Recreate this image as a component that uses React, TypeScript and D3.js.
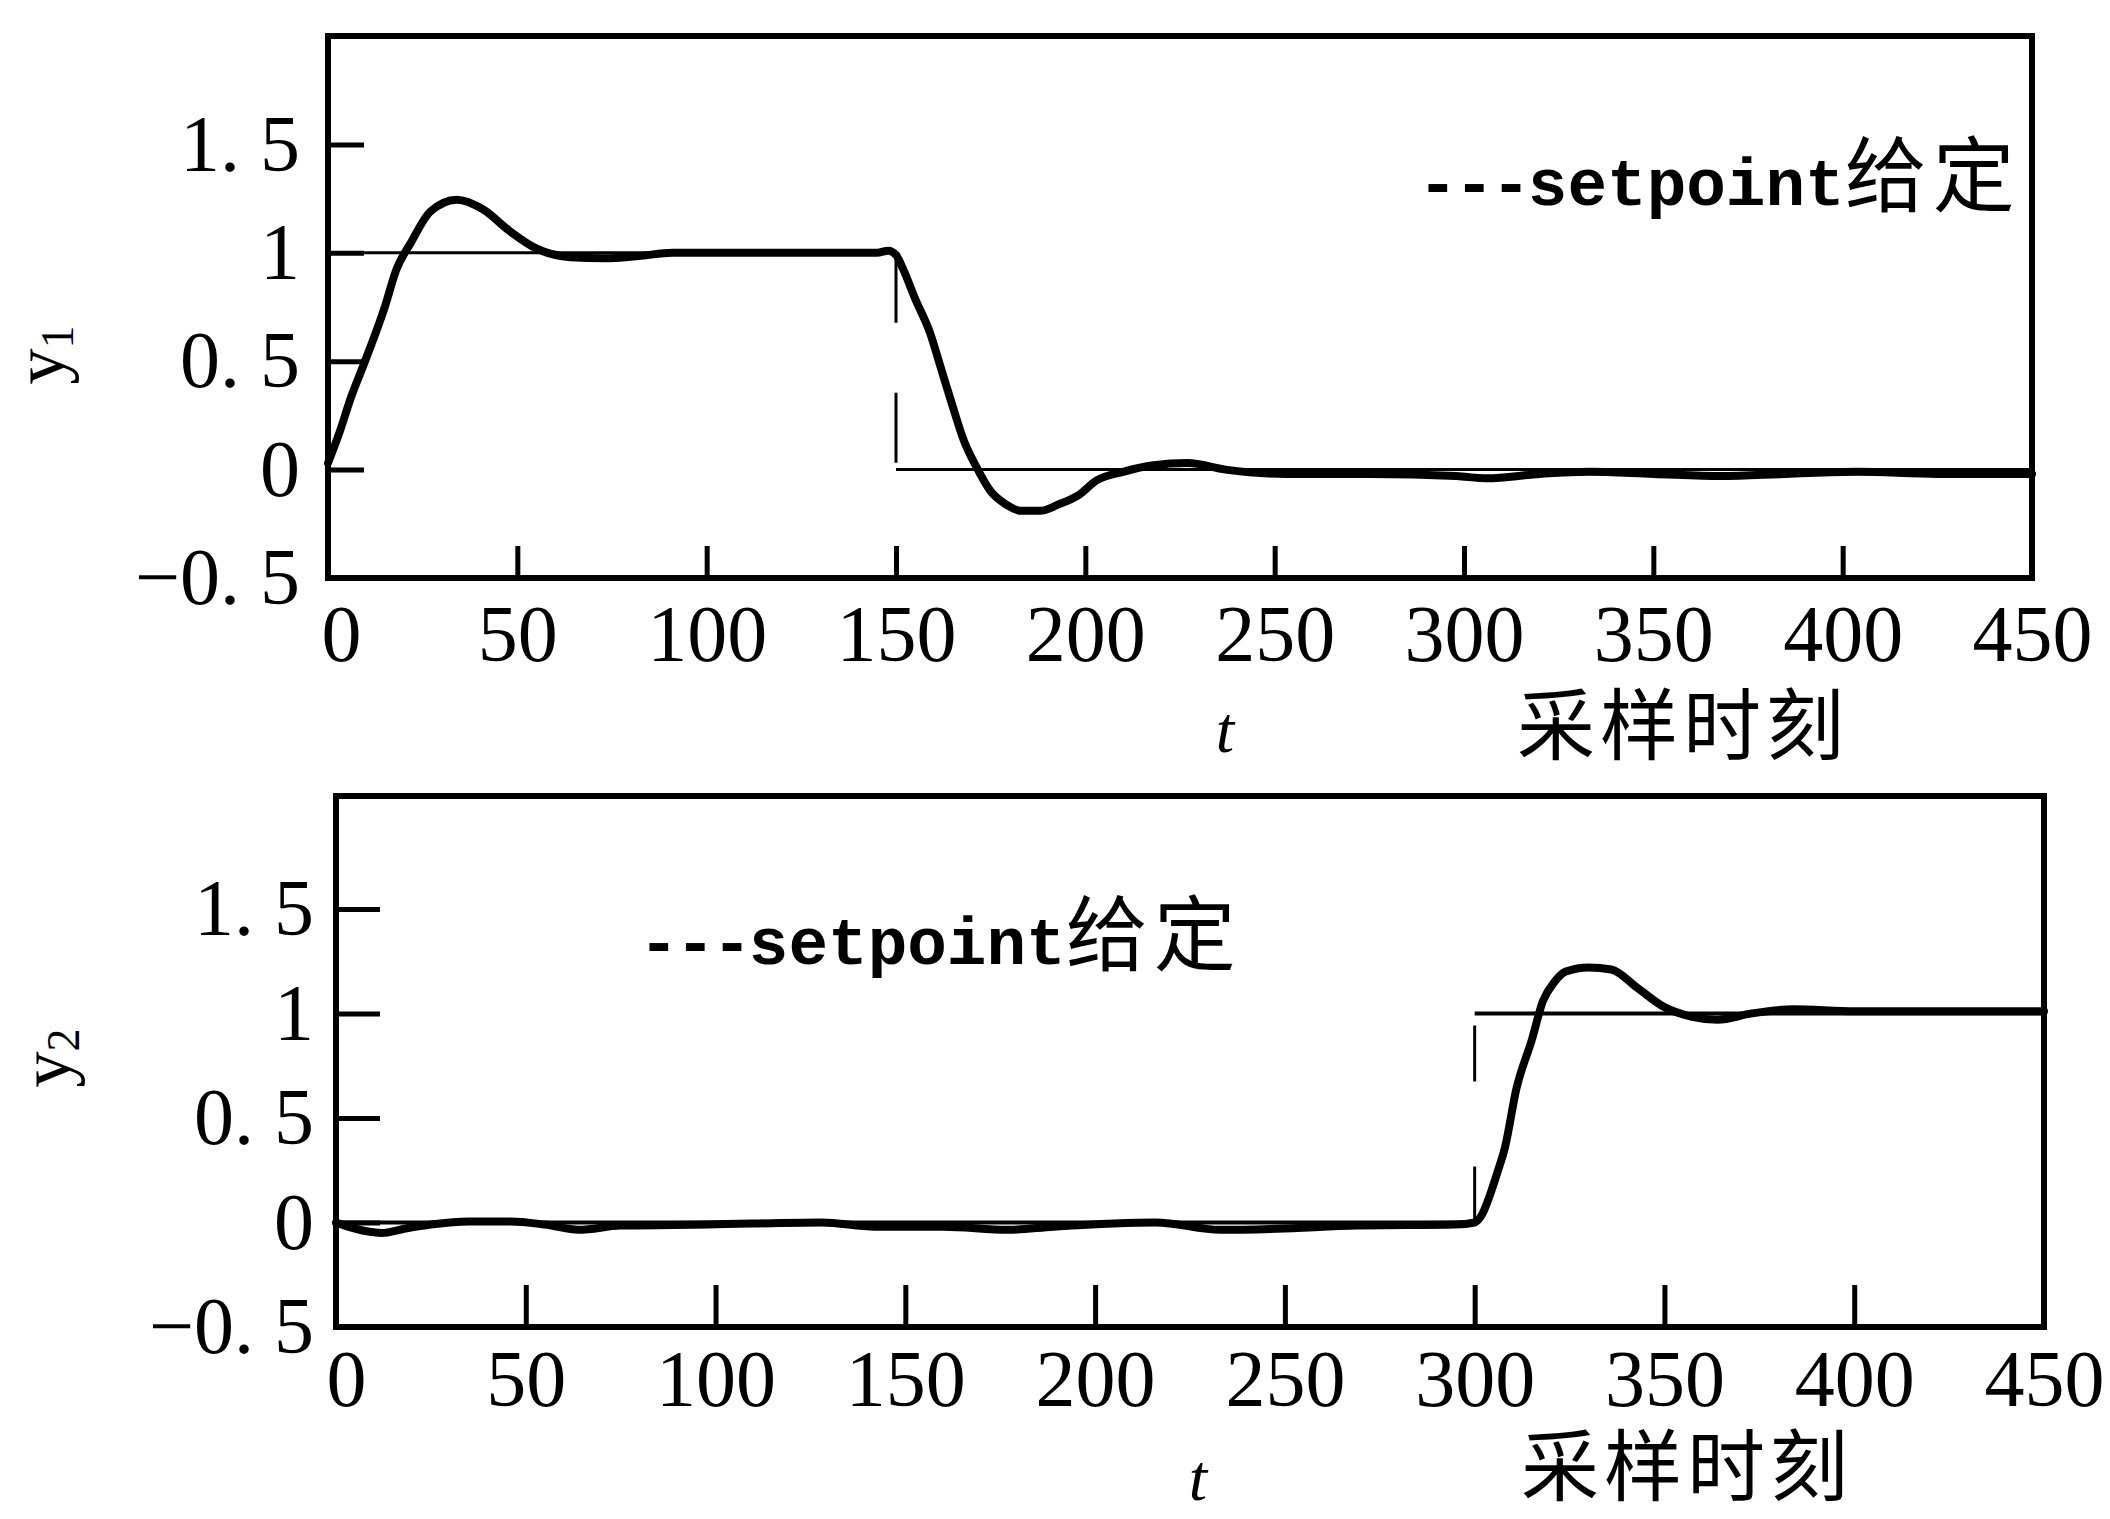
import { useEffect, useRef } from "react";
import * as d3 from "d3";

// tick values shared by both panels
const xTicks = [0, 50, 100, 150, 200, 250, 300, 350, 400, 450];
const yTicks = [-0.5, 0, 0.5, 1, 1.5];

// output y1
const y1Time = [0, 3, 6, 10, 15, 18, 22, 27, 34, 41, 48, 55, 64, 73, 82, 91, 110, 130, 145, 148, 150, 152, 155, 159, 162, 165, 168, 171, 175, 179, 183, 188, 193, 198, 203, 210, 218, 227, 237, 253, 275, 298, 306, 320, 333, 350, 368, 385, 404, 425, 450];
const y1Value = [0.03, 0.17, 0.33, 0.51, 0.75, 0.92, 1.05, 1.19, 1.245, 1.2, 1.1, 1.02, 0.98, 0.975, 0.985, 1.0, 1.0, 1.0, 1.0, 1.01, 0.99, 0.92, 0.79, 0.63, 0.46, 0.29, 0.13, 0.02, -0.1, -0.16, -0.19, -0.19, -0.16, -0.12, -0.05, -0.01, 0.02, 0.03, 0.0, -0.02, -0.02, -0.03, -0.04, -0.02, -0.01, -0.02, -0.03, -0.02, -0.01, -0.02, -0.02];

// output y2
const y2Time = [0, 5, 12, 18, 25, 35, 46, 55, 64, 75, 98, 128, 142, 160, 177, 189, 216, 233, 248, 269, 295, 300, 302, 304, 306, 308, 311, 315, 318, 321, 324, 330, 336, 343, 350, 357, 364, 373, 384, 400, 420, 450];
const y2Value = [0.0, -0.03, -0.05, -0.03, -0.01, 0.005, 0.005, -0.01, -0.035, -0.015, -0.01, 0.0, -0.02, -0.02, -0.035, -0.02, 0.0, -0.035, -0.03, -0.015, -0.01, 0.0, 0.04, 0.13, 0.24, 0.36, 0.64, 0.87, 1.06, 1.15, 1.2, 1.22, 1.21, 1.12, 1.03, 0.985, 0.97, 1.0, 1.02, 1.01, 1.01, 1.01];

// setpoints (step)
const sp1Time = [0, 150, 150, 450];
const sp1Value = [1, 1, 0, 0];
const sp2Time = [0, 300, 300, 450];
const sp2Value = [0, 0, 1, 1];

const serif = "'Liberation Serif', 'DejaVu Serif', serif";
const cjk = "'Noto Sans CJK SC', sans-serif";
const mono = "'Liberation Mono', 'DejaVu Sans Mono', monospace";

const panels = [
  {
    left: 328, right: 2032, top: 36, bottom: 578, yMax: 2.0,
    xTickLen: 32, yTickLen: 36, xPad: 26, yPad: 28, zeroShift: 13,
    time: y1Time, value: y1Value, spTime: sp1Time, spValue: sp1Value,
    sub: "1", yLabelX: 64, yLabelY: 355,
    legendX: 1418, legendY: 205,
    tX: 1225, tY: 752, cnX: 1517, cnY: 754,
    dash: "70 70", spWidth: 3,
  },
  {
    left: 336, right: 2044, top: 796, bottom: 1327, yMax: 2.04,
    xTickLen: 42, yTickLen: 44, xPad: 22, yPad: 22, zeroShift: 10,
    time: y2Time, value: y2Value, spTime: sp2Time, spValue: sp2Value,
    sub: "2", yLabelX: 70, yLabelY: 1058,
    legendX: 639, legendY: 964,
    tX: 1198, tY: 1500, cnX: 1521, cnY: 1495,
    dash: "56 85", spWidth: 4,
  },
];

export default function App() {
  const svgRef = useRef<SVGSVGElement>(null);

  useEffect(() => {
    const svg = d3.select(svgRef.current);
    svg.selectAll("*").remove();

    panels.forEach((p) => {
      const x = d3.scaleLinear().domain([0, 450]).range([p.left, p.right]);
      const y = d3.scaleLinear().domain([-0.5, p.yMax]).range([p.bottom, p.top]);
      const g = svg.append("g");

      // frame
      g.append("rect")
        .attr("x", p.left).attr("y", p.top)
        .attr("width", p.right - p.left).attr("height", p.bottom - p.top)
        .attr("fill", "none").attr("stroke", "#000").attr("stroke-width", 6);

      // axes with inward ticks
      g.append("g")
        .attr("transform", `translate(0,${p.bottom})`)
        .call(d3.axisBottom(x).tickValues(xTicks).tickSizeInner(-p.xTickLen).tickSizeOuter(0).tickPadding(p.xPad))
        .call((a) => a.select(".domain").remove())
        .call((a) => a.selectAll("line").attr("stroke", "#000").attr("stroke-width", 5))
        .call((a) =>
          a.selectAll<SVGTextElement, number>("text")
            .attr("font-family", serif).attr("font-size", 80).attr("fill", "#000")
            .attr("dx", (d) => (d === 0 ? p.zeroShift : 0))
        );

      g.append("g")
        .attr("transform", `translate(${p.left},0)`)
        .call(
          d3.axisLeft(y).tickValues(yTicks).tickSizeInner(-p.yTickLen).tickSizeOuter(0).tickPadding(p.yPad)
            .tickFormat((d) => String(d).replace(".", ". ").replace("-", "\u2212"))
        )
        .call((a) => a.select(".domain").remove())
        .call((a) => a.selectAll("line").attr("stroke", "#000").attr("stroke-width", 5))
        .call((a) => a.selectAll("text").attr("font-family", serif).attr("font-size", 80).attr("fill", "#000").attr("xml:space", "preserve"));

      // setpoint: horizontal parts solid, the jump dashed
      const sp = p.spTime.map((t, i) => [t, p.spValue[i]] as [number, number]);
      const line = d3.line<[number, number]>().x((d) => x(d[0])).y((d) => y(d[1]));
      g.append("path").attr("d", line([sp[0], sp[1]])).attr("fill", "none").attr("stroke", "#000").attr("stroke-width", p.spWidth);
      g.append("path").attr("d", line([sp[2], sp[3]])).attr("fill", "none").attr("stroke", "#000").attr("stroke-width", p.spWidth);
      g.append("path").attr("d", line([sp[1], sp[2]])).attr("fill", "none").attr("stroke", "#000")
        .attr("stroke-width", 3).attr("stroke-dasharray", p.dash);

      // response
      const resp = p.time.map((t, i) => [t, p.value[i]] as [number, number]);
      g.append("path")
        .attr("d", line.curve(d3.curveMonotoneX)(resp))
        .attr("fill", "none").attr("stroke", "#000").attr("stroke-width", 8)
        .attr("stroke-linejoin", "round").attr("stroke-linecap", "round");

      // y label
      const yl = g.append("text")
        .attr("transform", `translate(${p.yLabelX},${p.yLabelY}) rotate(-90)`)
        .attr("text-anchor", "middle").attr("font-family", serif).attr("font-size", 72);
      yl.append("tspan").text("y");
      yl.append("tspan").attr("font-size", 46).attr("dy", 9).text(p.sub);

      // legend
      const lg = g.append("text").attr("x", p.legendX).attr("y", p.legendY).attr("xml:space", "preserve");
      lg.append("tspan").attr("font-family", mono).attr("font-weight", "bold").attr("font-size", 66).attr("letter-spacing", -3).text("---");
      lg.append("tspan").attr("font-family", mono).attr("font-weight", "bold").attr("font-size", 66).text("setpoint");
      lg.append("tspan").attr("font-family", cjk).attr("font-size", 82).attr("letter-spacing", 6).text("给定");

      // x labels
      g.append("text").attr("x", p.tX).attr("y", p.tY).attr("text-anchor", "middle")
        .attr("font-family", serif).attr("font-style", "italic").attr("font-size", 66).text("t");
      g.append("text").attr("x", p.cnX).attr("y", p.cnY)
        .attr("font-family", cjk).attr("font-size", 78).attr("letter-spacing", 5).text("采样时刻");
    });
  }, []);

  return (
    <svg
      ref={svgRef}
      width={2110}
      height={1519}
      style={{ position: "absolute", left: 0, top: 0, background: "#fff" }}
    />
  );
}
